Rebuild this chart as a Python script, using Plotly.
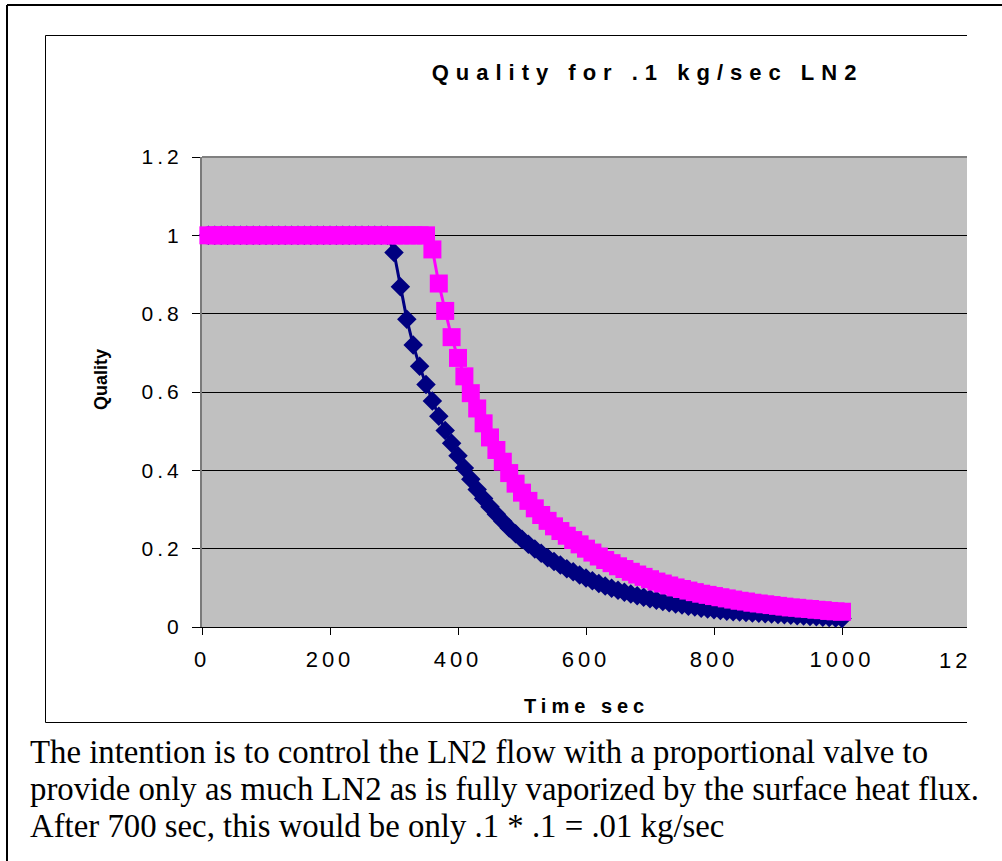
import plotly.graph_objects as go

# ---------------- data ----------------
time_sec = list(range(10, 1010, 10))

quality_a = [1.0] * 29 + [
    0.956, 0.869, 0.786, 0.720, 0.666, 0.619, 0.577, 0.538, 0.502, 0.469,
    0.437, 0.406, 0.377, 0.351, 0.328, 0.307, 0.288, 0.270, 0.253, 0.238,
    0.224, 0.211, 0.199, 0.188, 0.177, 0.167, 0.158, 0.149, 0.141, 0.133,
    0.125, 0.118, 0.111, 0.105, 0.099, 0.094, 0.089, 0.084, 0.080, 0.076,
    0.072, 0.068, 0.065, 0.062, 0.059, 0.056, 0.053, 0.051, 0.048, 0.046,
    0.044, 0.042, 0.040, 0.039, 0.038, 0.037, 0.036, 0.035, 0.034, 0.033,
    0.032, 0.031, 0.030, 0.029, 0.028, 0.027, 0.026, 0.025, 0.024, 0.023,
    0.022,
]

quality_b = [1.0] * 35 + [
    0.964, 0.877, 0.807, 0.740, 0.687, 0.640, 0.597, 0.558, 0.520, 0.484,
    0.452, 0.422, 0.393, 0.366, 0.343, 0.322, 0.303, 0.286, 0.271, 0.257,
    0.245, 0.233, 0.222, 0.211, 0.200, 0.190, 0.180, 0.171, 0.163, 0.155,
    0.148, 0.141, 0.134, 0.128, 0.122, 0.116, 0.111, 0.106, 0.101, 0.097,
    0.093, 0.089, 0.085, 0.082, 0.079, 0.076, 0.073, 0.070, 0.067, 0.065,
    0.062, 0.060, 0.058, 0.056, 0.054, 0.052, 0.050, 0.049, 0.047, 0.046,
    0.044, 0.043, 0.041, 0.040, 0.039,
]

x_tick_vals = [0, 200, 400, 600, 800, 1000]
x_tick_text = ["0", "200", "400", "600", "800", "1000"]
x_cut_label = "12"          # the cropped "1200" label at the right edge
y_tick_vals = [0, 0.2, 0.4, 0.6, 0.8, 1.0, 1.2]
y_tick_text = ["0", "0.2", "0.4", "0.6", "0.8", "1", "1.2"]

title_text = "Quality for .1 kg/sec LN2"
x_title = "Time sec"
y_title = "Quality"
note_lines = [
    "The intention is to control the LN2 flow with a proportional valve to",
    "provide only as much LN2 as is fully vaporized by the surface heat flux.",
    "After 700 sec, this would be only .1 * .1 = .01 kg/sec",
]

# ---------------- layout geometry (pixels) ----------------
W, H = 1002, 861
PL, PR, PT, PB = 202, 967, 157, 627  # plot area in px
X_MAX = (PR - PL) / 0.64             # keep 0.64 px per second


def px_x(p):
    return (p - PL) / (PR - PL)


def px_y(p):
    return (PB - p) / (PB - PT)


SANS = "Liberation Sans, Arial, sans-serif"
SERIF = "Liberation Serif, Times New Roman, serif"

fig = go.Figure()
fig.add_trace(go.Scatter(
    x=time_sec, y=quality_a, mode="lines+markers",
    line=dict(color="#000080", width=3),
    marker=dict(symbol="diamond", size=15, color="#000080", line=dict(width=0)),
    cliponaxis=False, showlegend=False,
))
fig.add_trace(go.Scatter(
    x=time_sec, y=quality_b, mode="lines+markers",
    line=dict(color="#FF00FF", width=3),
    marker=dict(symbol="square", size=18, color="#FF00FF", line=dict(width=0)),
    cliponaxis=False, showlegend=False,
))

shapes = [
    # plot area top border
    dict(type="line", xref="paper", yref="paper", layer="above",
         x0=px_x(202), x1=px_x(967), y0=px_y(157), y1=px_y(157),
         line=dict(color="#808080", width=2)),
    # inner chart frame
    dict(type="line", xref="paper", yref="paper", layer="above",
         x0=px_x(45.5), x1=px_x(967), y0=px_y(35.5), y1=px_y(35.5),
         line=dict(color="black", width=1)),
    dict(type="line", xref="paper", yref="paper", layer="above",
         x0=px_x(45.5), x1=px_x(967), y0=px_y(722.5), y1=px_y(722.5),
         line=dict(color="black", width=1)),
    dict(type="line", xref="paper", yref="paper", layer="above",
         x0=px_x(45.5), x1=px_x(45.5), y0=px_y(35.5), y1=px_y(722.5),
         line=dict(color="black", width=1)),
    # outer frame
    dict(type="line", xref="paper", yref="paper", layer="above",
         x0=px_x(7), x1=px_x(1010), y0=px_y(5), y1=px_y(5),
         line=dict(color="black", width=2)),
    dict(type="line", xref="paper", yref="paper", layer="above",
         x0=px_x(7), x1=px_x(7), y0=px_y(5), y1=px_y(870),
         line=dict(color="black", width=2)),
]

annotations = [
    dict(text=x_title, xref="paper", yref="paper", x=px_x(586), y=px_y(706),
         xanchor="center", yanchor="middle", showarrow=False,
         font=dict(family=SANS, size=20, color="black", weight="bold")),
    dict(text=x_cut_label, xref="paper", yref="paper", x=px_x(969), y=px_y(660),
         xanchor="right", yanchor="middle", showarrow=False,
         font=dict(family=SANS, size=22, color="black")),
    dict(text=y_title, xref="paper", yref="paper", x=px_x(101), y=px_y(380),
         xanchor="center", yanchor="middle", showarrow=False, textangle=-90,
         font=dict(family=SANS, size=18, color="black", weight="bold")),
]
for line_text, yc in zip(note_lines, [752, 789, 826]):
    annotations.append(dict(
        text=line_text, xref="paper", yref="paper", x=px_x(28), y=px_y(yc),
        xanchor="left", yanchor="middle", showarrow=False,
        font=dict(family=SERIF, size=32.8, color="black"),
    ))

fig.update_layout(
    width=W, height=H, autosize=False,
    margin=dict(l=PL, r=W - PR, t=PT, b=H - PB, pad=0),
    paper_bgcolor="white", plot_bgcolor="#C0C0C0",
    title=dict(text=title_text, xref="container", yref="container",
               x=647.5 / W, y=1 - 72 / H, xanchor="center", yanchor="middle",
               font=dict(family=SANS, size=22, color="black", weight="bold")),
    xaxis=dict(range=[0, X_MAX], tickvals=x_tick_vals, ticktext=x_tick_text,
               showgrid=False, zeroline=False, showline=True,
               linecolor="black", linewidth=1, ticks="outside", ticklen=7,
               tickwidth=1, tickcolor="black", layer="below traces",
               ticklabelstandoff=6,
               tickfont=dict(family=SANS, size=22, color="black")),
    yaxis=dict(range=[0, 1.2], tickvals=y_tick_vals, ticktext=y_tick_text,
               showgrid=True, gridcolor="black", gridwidth=1, zeroline=False,
               showline=True, linecolor="#7a7a7a", linewidth=2,
               ticks="outside", ticklen=8, tickwidth=1, tickcolor="black",
               layer="below traces", ticklabelstandoff=5,
               tickfont=dict(family=SANS, size=21, color="black")),
    shapes=shapes,
    annotations=annotations,
)

css = ("body{margin:0;overflow:hidden}"
       ".modebar-container{display:none}"
       ".gtitle{letter-spacing:7px}"
       ".xtick text,.ytick text{letter-spacing:4px}"
       "g.annotation[data-index='0'] text{letter-spacing:5px}"
       "g.annotation[data-index='1'] text{letter-spacing:4px}")
post = ("var s=document.createElement('style');s.textContent=\"" + css +
        "\";document.head.appendChild(s);")

fig.write_html("out.html", post_script=post,
               config={"displayModeBar": False, "staticPlot": True})
